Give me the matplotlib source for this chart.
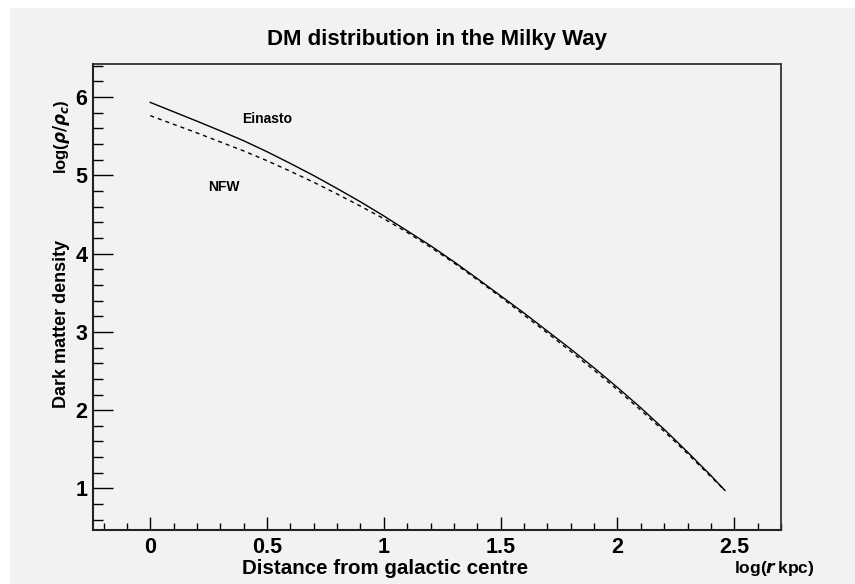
import matplotlib
matplotlib.use('Agg')
from matplotlib import pyplot as plt
from matplotlib.patches import Rectangle
from matplotlib.ticker import MultipleLocator

# log(r/kpc) sample points
log_r = [0.0, 0.1, 0.2, 0.3, 0.4, 0.5, 0.6, 0.7, 0.8, 0.9, 1.0, 1.1, 1.2,
         1.3, 1.4, 1.5, 1.6, 1.7, 1.8, 1.9, 2.0, 2.1, 2.2, 2.3, 2.4, 2.46]
# log(rho/rho_c) for each profile
einasto = [5.93, 5.81, 5.69, 5.567, 5.44, 5.30, 5.15, 4.995, 4.83, 4.66, 4.48, 4.29, 4.10,
           3.895, 3.68, 3.46, 3.24, 3.01, 2.78, 2.54, 2.29, 2.03, 1.755, 1.465, 1.165, 0.975]
nfw = [5.76, 5.65, 5.54, 5.425, 5.31, 5.185, 5.05, 4.91, 4.76, 4.605, 4.445, 4.27, 4.08,
       3.88, 3.665, 3.445, 3.215, 2.985, 2.75, 2.51, 2.26, 2.00, 1.73, 1.445, 1.15, 0.975]

bg = '#f2f2f2'
plt.rcParams['font.family'] = ['Liberation Sans', 'DejaVu Sans']
plt.rcParams['font.weight'] = 'bold'

fig = plt.figure(figsize=(8.55, 5.84), dpi=100, facecolor='white')
# grey canvas, with the thin white strip on the left and top like the original
fig.patches.append(Rectangle((10 / 855, 0), 1 - 10 / 855, (584 - 8) / 584,
                             transform=fig.transFigure, facecolor=bg,
                             edgecolor='none', zorder=-1))

ax = fig.add_axes([93 / 855, (584 - 530) / 584, 688 / 855, 466 / 584])
ax.set_facecolor(bg)

# plot the two profiles
ax.plot(log_r, einasto, color='black', lw=1.0)
ax.plot(log_r, nfw, color='black', lw=1.0, linestyle=(0, (2.9, 2.9)))

ax.set_xlim(-0.245, 2.70)
ax.set_ylim(0.47, 6.42)

# ROOT-like ticks: inside, left/bottom only
ax.xaxis.set_major_locator(MultipleLocator(0.5))
ax.xaxis.set_minor_locator(MultipleLocator(0.1))
ax.yaxis.set_major_locator(MultipleLocator(1))
ax.yaxis.set_minor_locator(MultipleLocator(0.2))
ax.xaxis.set_major_formatter(plt.FuncFormatter(lambda v, p: '%g' % v))
ax.tick_params(axis='x', which='major', direction='in', length=9.4, width=1,
               labelsize=15.5, pad=5, top=False)
ax.tick_params(axis='x', which='minor', direction='in', length=4.7, width=1, top=False)
ax.tick_params(axis='y', which='major', direction='in', length=14.4, width=1,
               labelsize=15.5, pad=4, right=False)
ax.tick_params(axis='y', which='minor', direction='in', length=7.2, width=1, right=False)
for lab in ax.get_xticklabels() + ax.get_yticklabels():
    lab.set_fontweight('bold')

for side in ['left', 'bottom']:
    ax.spines[side].set_linewidth(1.5)
    ax.spines[side].set_color('#222222')
for side in ['top', 'right']:
    ax.spines[side].set_linewidth(1.3)
    ax.spines[side].set_color('#333333')

# labels on the curves
ax.text(0.5, 5.72, 'Einasto', fontsize=10, fontweight='bold', ha='center', va='center')
ax.text(0.316, 4.85, 'NFW', fontsize=10, fontweight='bold', ha='center', va='center')

# titles
fig.text(437 / 855, 1 - 40 / 584, 'DM distribution in the Milky Way',
         fontsize=16, fontweight='bold', ha='center', va='center')
fig.text(385 / 855, 1 - 569 / 584, 'Distance from galactic centre',
         fontsize=14.8, fontweight='bold', ha='center', va='center')
fig.text(774 / 855, 1 - 569 / 584, r'log($r\,$kpc)',
         fontsize=12.5, fontweight='bold', ha='center', va='center')
fig.text(61 / 855, 1 - 324 / 584, 'Dark matter density', rotation=90,
         fontsize=13, fontweight='bold', ha='center', va='center')
fig.text(61 / 855, 1 - 137 / 584, r'log($\rho/\rho_c$)', rotation=90,
         fontsize=12, fontweight='bold', ha='center', va='center')

plt.savefig('out.png', dpi=100, facecolor=fig.get_facecolor())
